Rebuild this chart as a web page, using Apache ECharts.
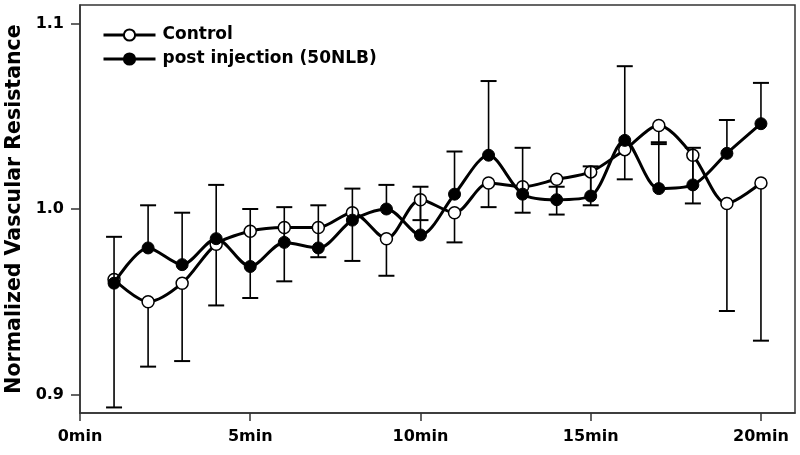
<!DOCTYPE html>
<html>
<head>
<meta charset="utf-8">
<script src="https://cdn.jsdelivr.net/npm/echarts@6/dist/echarts.min.js"></script>
<style>
  html, body { margin: 0; padding: 0; background: #fff; }
  #Chart { width: 800px; height: 455px; }
</style>
</head>
<body>
<div id="Chart"></div>
<script>
var fontName = '"DejaVu Sans", sans-serif';
var frameColor = '#333';

// minutes
var times = [1, 2, 3, 4, 5, 6, 7, 8, 9, 10, 11, 12, 13, 14, 15, 16, 17, 18, 19, 20];
// Control mean and lower end of its error bar
var controlMean = [0.962, 0.950, 0.960, 0.981, 0.988, 0.990, 0.990, 0.998, 0.984, 1.005,
                   0.998, 1.014, 1.012, 1.016, 1.020, 1.032, 1.045, 1.029, 1.003, 1.014];
var controlLow = [0.893, 0.915, 0.918, 0.948, 0.952, 0.961, 0.974, 0.972, 0.964, 0.994,
                  0.982, 1.001, 0.998, 0.997, 1.002, 1.016, 1.035, 1.003, 0.945, 0.929];
// post injection mean and upper end of its error bar
var postMean = [0.960, 0.979, 0.970, 0.984, 0.969, 0.982, 0.979, 0.994, 1.000, 0.986,
                1.008, 1.029, 1.008, 1.005, 1.007, 1.037, 1.011, 1.013, 1.030, 1.046];
var postHigh = [0.985, 1.002, 0.998, 1.013, 1.000, 1.001, 1.002, 1.011, 1.013, 1.012,
                1.031, 1.069, 1.033, 1.012, 1.023, 1.077, 1.036, 1.033, 1.048, 1.068];
var xTicks = [0, 5, 10, 15, 20];
var yTicks = [0.9, 1.0, 1.1];

function pairs(ys) {
    return times.map(function (t, i) { return [t, ys[i]]; });
}
function bars(means, ends) {
    return times.map(function (t, i) { return [t, means[i], ends[i]]; });
}

//误差线
function errorBar(params, api) {
    var x = api.value(0);
    var p1 = api.coord([x, api.value(1)]);
    var p2 = api.coord([x, api.value(2)]);
    var half = 8;
    return {
        type: 'group',
        children: [
            { type: 'line', shape: { x1: p1[0], y1: p1[1], x2: p2[0], y2: p2[1] },
              style: { stroke: '#000', lineWidth: 1.6 } },
            { type: 'line', shape: { x1: p2[0] - half, y1: p2[1], x2: p2[0] + half, y2: p2[1] },
              style: { stroke: '#000', lineWidth: 2 } }
        ]
    };
}

var myChart = echarts.init(document.getElementById('Chart'));
var option = {
    animation: false,
    grid: {
        show: true,
        left: 80,
        right: 5,
        top: 5,
        bottom: 42,
        outerBoundsMode: 'none',
        containLabel: false,
        borderColor: frameColor,
        borderWidth: 1.5
    },
    legend: {
        orient: 'vertical',
        left: 97,
        top: 20,
        itemWidth: 52,
        itemHeight: 14,
        itemGap: 4,
        lineStyle: { width: 3 },
        textStyle: {
            fontFamily: fontName,
            fontWeight: 'bold',
            fontSize: 17,
            lineHeight: 20,
            color: '#000',
            padding: [0, 0, 0, 2]
        },
        data: ['Control', 'post injection (50NLB)']
    },
    xAxis: {
        type: 'value',
        min: 0,
        max: 21,
        interval: 5,
        axisLine: { show: true, lineStyle: { color: frameColor, width: 1.5 } },
        axisTick: { show: true, length: 8, customValues: xTicks, lineStyle: { color: frameColor, width: 1.5 } },
        axisLabel: {
            customValues: xTicks,
            margin: 16,
            fontFamily: fontName,
            fontWeight: 'bold',
            fontSize: 16,
            color: '#000',
            formatter: function (v) { return v + 'min'; }
        },
        splitLine: { show: false }
    },
    yAxis: {
        type: 'value',
        min: 0.89,
        max: 1.11,
        name: 'Normalized Vascular Resistance',
        nameLocation: 'middle',
        nameGap: 46,
        nameTextStyle: {
            fontFamily: fontName,
            fontWeight: 'bold',
            fontSize: 20.5,
            color: '#000'
        },
        axisLine: { show: true, lineStyle: { color: frameColor, width: 1.5 } },
        axisTick: { show: true, length: 9, customValues: yTicks, lineStyle: { color: frameColor, width: 1.5 } },
        axisLabel: {
            customValues: yTicks,
            margin: 16,
            fontFamily: fontName,
            fontWeight: 'bold',
            fontSize: 16,
            color: '#000',
            formatter: function (v) { return v.toFixed(1); }
        },
        splitLine: { show: false }
    },
    series: [
        {
            name: 'Control-err',
            type: 'custom',
            z: 1,
            renderItem: errorBar,
            encode: { x: 0, y: [1, 2] },
            data: bars(controlMean, controlLow)
        },
        {
            name: 'Control',
            type: 'line',
            z: 2,
            smooth: 0.3,
            symbol: 'circle',
            symbolSize: 12,
            itemStyle: { color: '#fff', borderColor: '#000', borderWidth: 1.5 },
            lineStyle: { color: '#000', width: 3 },
            data: pairs(controlMean)
        },
        {
            name: 'post-err',
            type: 'custom',
            z: 3,
            renderItem: errorBar,
            encode: { x: 0, y: [1, 2] },
            data: bars(postMean, postHigh)
        },
        {
            name: 'post injection (50NLB)',
            type: 'line',
            z: 4,
            smooth: 0.3,
            symbol: 'circle',
            symbolSize: 12,
            itemStyle: { color: '#000', borderColor: '#000', borderWidth: 1 },
            lineStyle: { color: '#000', width: 3 },
            data: pairs(postMean)
        }
    ]
};
myChart.setOption(option);
</script>
</body>
</html>
